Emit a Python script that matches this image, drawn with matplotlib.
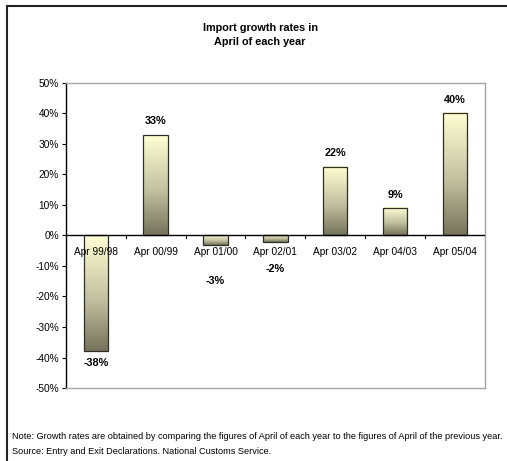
import numpy as np
import matplotlib.pyplot as plt
from matplotlib.colors import LinearSegmentedColormap
from matplotlib.patches import Rectangle

plt.rcParams['font.family'] = ['Liberation Sans', 'DejaVu Sans']

periods = ['Apr 99/98', 'Apr 00/99', 'Apr 01/00', 'Apr 02/01', 'Apr 03/02', 'Apr 04/03', 'Apr 05/04']
growth = [-37.8, 32.7, -3.0, -2.3, 22.3, 8.9, 40.1]
labels = ['-38%', '33%', '-3%', '-2%', '22%', '9%', '40%']

# distance (px) from bar end to its value label
label_gap = [12, 14, 35, 26, 14, 13, 12]

fig = plt.figure(figsize=(5.07, 4.61), dpi=100)
ax = fig.add_axes([0.130, 0.158, 0.826, 0.663])

shade = LinearSegmentedColormap.from_list(
    'shade', [(0.0, '#75735b'), (0.45, '#c2c1a0'), (1.0, '#ffffd4')])
grad = np.linspace(0, 1, 256).reshape(-1, 1)

width = 0.41
for i, v in enumerate(growth):
    lo, hi = min(v, 0), max(v, 0)
    ax.imshow(grad, cmap=shade, origin='lower', aspect='auto',
              extent=[i - width / 2, i + width / 2, lo, hi], zorder=2)
    ax.bar(i, v, width=width, facecolor='none', edgecolor='#2e2e26', linewidth=0.9, zorder=3)
    gap = label_gap[i] * 0.75
    ax.annotate(labels[i], (i, v), xytext=(0, gap if v > 0 else -gap),
                textcoords='offset points', ha='center', va='center',
                fontsize=7.8, fontweight='bold')

ax.set_xlim(-0.5, len(periods) - 0.5)
ax.set_ylim(-50, 50)

ax.set_yticks(range(-50, 51, 10))
ax.set_yticklabels([f'{t}%' for t in range(-50, 51, 10)], fontsize=7.3)
ax.tick_params(axis='y', length=3, width=0.8, pad=2)
ax.set_xticks([])

# category names sit under the zero line, over the bars
for i, p in enumerate(periods):
    ax.text(i, -3.9, p, ha='center', va='top', fontsize=7.3, zorder=4)

ax.axhline(0, color='black', linewidth=1.0, zorder=4)
for b in np.arange(0.5, len(periods) - 0.5, 1):
    ax.plot([b, b], [0, -1.0], color='black', linewidth=0.8, zorder=4)

for s in ['top', 'right', 'bottom']:
    ax.spines[s].set_color('#a6a6a6')
    ax.spines[s].set_linewidth(1.0)
ax.spines['left'].set_color('black')
ax.spines['left'].set_linewidth(1.0)

fig.text(0.513, 0.924, 'Import growth rates in\nApril of each year', ha='center', va='center',
         fontsize=7.8, fontweight='bold', linespacing=1.45)

fig.text(0.024, 0.054, 'Note: Growth rates are obtained by comparing the figures of April of each year '
         'to the figures of April of the previous year.', fontsize=6.55, va='center')
fig.text(0.024, 0.020, 'Source: Entry and Exit Declarations. National Customs Service.',
         fontsize=6.55, va='center')

# outer frame, open at the right and bottom edges
fig.patches.append(Rectangle((0.014, -0.05), 1.05, 1.037, transform=fig.transFigure,
                             fill=False, edgecolor='#222222', linewidth=1.5))

fig.savefig('out.png', dpi=100)
